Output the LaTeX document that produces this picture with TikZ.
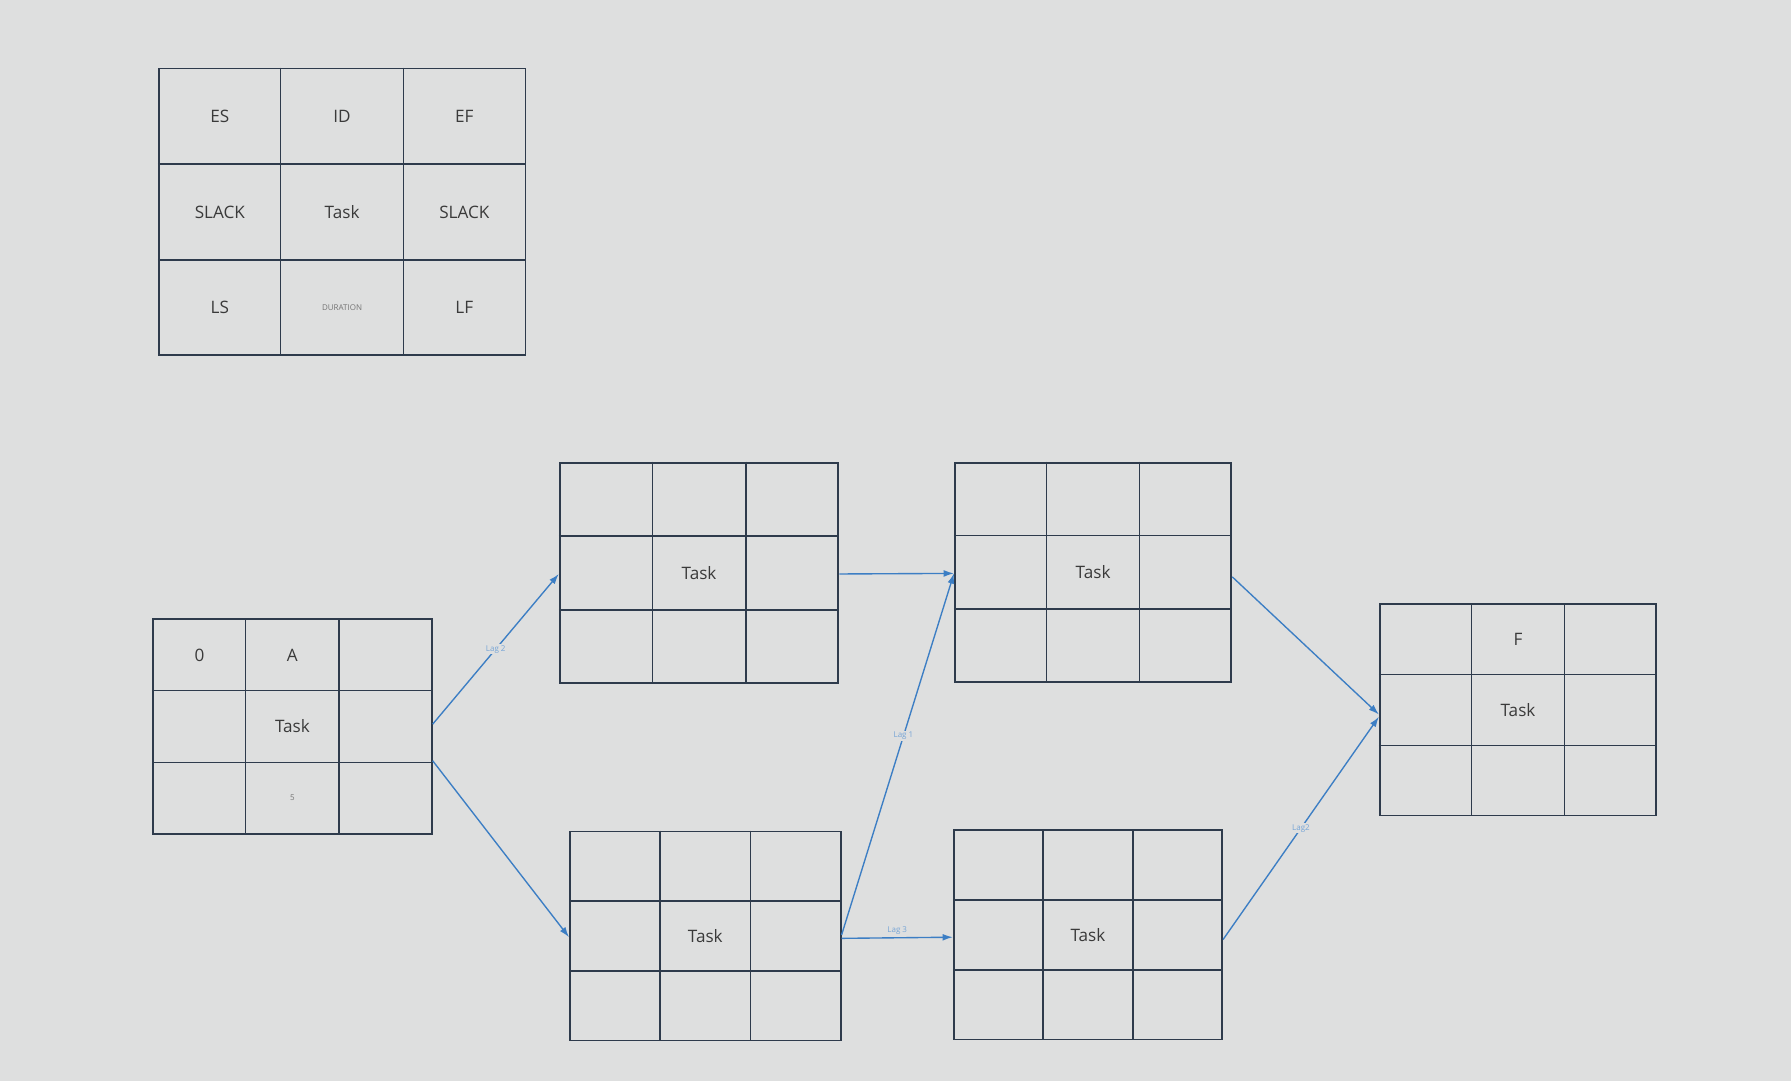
\documentclass[tikz,border=0pt]{standalone}
\usepackage{fontspec}
\setmainfont{Open Sans}
\usetikzlibrary{calc,arrows.meta}
\definecolor{bg}{HTML}{DEDFDF}
\definecolor{gridc}{HTML}{2E3B4C}
\definecolor{arr}{HTML}{3C7EC4}
\definecolor{txt}{HTML}{3A3A3A}
\tikzset{
  box/.style={draw=gridc, line width=1.6pt, inner sep=0pt},
  gl/.style={draw=gridc, line width=1.3pt},
  ct/.style={text=txt, font=\fontsize{15}{17}\selectfont},
  tiny/.style={text=txt!70, font=\fontsize{7}{8}\selectfont},
  lag/.style={text=arr!70, font=\fontsize{7}{8}\selectfont, fill=bg, inner sep=1pt},
  con/.style={draw=arr, line width=1.2pt, -{Latex[length=9pt,width=6pt]}}
}
\newcommand\tbox[5]{%
  \node[box, minimum width={(#4-#2)*1pt}, minimum height={(#5-#3)*1pt}] (#1) at ({(#2+#4)/2},{(#3+#5)/2}) {};
  \foreach \f in {1/3,2/3}{
    \draw[gl] ($(#1.north west)!\f!(#1.north east)$) -- ($(#1.south west)!\f!(#1.south east)$);
    \draw[gl] ($(#1.north west)!\f!(#1.south west)$) -- ($(#1.north east)!\f!(#1.south east)$);
  }
  \foreach \i in {1,2,3}{\foreach \j in {1,2,3}{
    \coordinate (#1-\j\i) at ({#2+(2*\i-1)/6*(#4-#2)},{#3+(2*\j-1)/6*(#5-#3)});
  }}
}
\begin{document}
\begin{tikzpicture}[x=1pt,y=-1pt]
\fill[bg] (0,0) rectangle (1568,946);
\useasboundingbox (0,0) rectangle (1568,946);
% legend
\tbox{L}{139}{60}{460}{311}
\node[ct] at (L-11) {ES}; \node[ct] at (L-12) {ID}; \node[ct] at (L-13) {EF};
\node[ct] at (L-21) {SLACK}; \node[ct] at (L-22) {Task}; \node[ct] at (L-23) {SLACK};
\node[ct] at (L-31) {LS}; \node[tiny] at (L-32) {DURATION}; \node[ct] at (L-33) {LF};
% tasks
\tbox{A}{134}{542}{378}{730}
\node[ct] at (A-11) {0}; \node[ct] at (A-12) {A}; \node[ct] at (A-22) {Task}; \node[tiny] at (A-32) {5};
\tbox{B}{490}{405}{734}{598}
\node[ct] at (B-22) {Task};
\tbox{C}{499}{728}{736}{911}
\node[ct] at (C-22) {Task};
\tbox{D}{836}{405}{1078}{597}
\node[ct] at (D-22) {Task};
\tbox{E}{835}{727}{1070}{910}
\node[ct] at (E-22) {Task};
\tbox{F}{1208}{529}{1450}{714}
\node[ct] at (F-12) {F}; \node[ct] at (F-22) {Task};
% connectors
\draw[con] ([yshift=2pt]A.east) -- node[lag, pos=0.5] {Lag 2} ([yshift=-1pt]B.west);
\draw[con] ([yshift=-30pt]A.east) -- ([yshift=-1pt]C.west);
\draw[con] ([yshift=-1pt]B.east) -- ([yshift=-1pt]D.west);
\draw[con] ([yshift=1pt]C.east) -- node[lag, pos=0.55] {Lag 1} ([yshift=-1pt]D.west);
\draw[con] ([yshift=-2pt]C.east) -- node[lag, pos=0.5, above=1pt, fill=none] {Lag 3} ([yshift=-2pt]E.west);
\draw[con] ([yshift=-4pt]D.east) -- ([yshift=-4pt]F.west);
\draw[con] ([yshift=-4pt]E.east) -- node[lag, pos=0.5] {Lag2} ([yshift=-6pt]F.west);
\end{tikzpicture}
\end{document}
